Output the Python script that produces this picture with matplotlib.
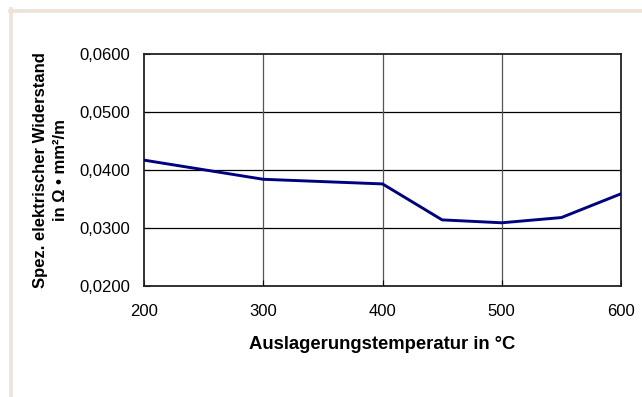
import matplotlib.pyplot as plt
from matplotlib.ticker import FuncFormatter
from matplotlib.lines import Line2D

plt.rcParams['font.family'] = ['Liberation Sans', 'DejaVu Sans']

# Values
temperatures = [200, 300, 400, 450, 500, 550, 600]
resistivity = [0.0417, 0.0384, 0.0376, 0.0314, 0.0309, 0.0318, 0.0359]
x_ticks = [200, 300, 400, 500, 600]
y_ticks = [0.02, 0.03, 0.04, 0.05, 0.06]

fig = plt.figure(figsize=(6.42, 3.97), dpi=100)
ax = fig.add_axes([144 / 642, 1 - 286 / 397, (621 - 144) / 642, (286 - 54) / 397])

# beige partial frame (top and left edges)
frame_col = '#ede2d8'
fig.add_artist(Line2D([10 / 642, 1], [1 - 10.5 / 397] * 2, color=frame_col, lw=2.6,
                      transform=fig.transFigure))
fig.add_artist(Line2D([11.5 / 642] * 2, [0, 1 - 9 / 397], color=frame_col, lw=2.6,
                      transform=fig.transFigure))

ax.plot(temperatures, resistivity, color='#000080', lw=2.1, zorder=3)

ax.set_xlim(200, 600)
ax.set_ylim(0.02, 0.06)
ax.set_xticks(x_ticks)
ax.set_yticks(y_ticks)
ax.yaxis.set_major_formatter(FuncFormatter(lambda v, p: f'{v:.4f}'.replace('.', ',')))

for y in y_ticks[1:-1]:
    ax.axhline(y, color='black', lw=0.9, zorder=1)
for x in x_ticks[1:-1]:
    ax.axvline(x, color='#555555', lw=0.9, zorder=1)

for s in ax.spines.values():
    s.set_color('#222222')
    s.set_linewidth(1.3)

ax.tick_params(axis='both', direction='in', length=4, width=0.8, labelsize=12)
ax.tick_params(axis='y', pad=10)
ax.tick_params(axis='x', pad=13)

ax.set_xlabel('Auslagerungstemperatur in °C', fontsize=13.3, fontweight='bold', labelpad=12)
ax.set_ylabel('Spez. elektrischer Widerstand\nin Ω • mm²/m', fontsize=12,
              fontweight='bold', labelpad=8, linespacing=1.4)

fig.savefig('out.png', dpi=100)
